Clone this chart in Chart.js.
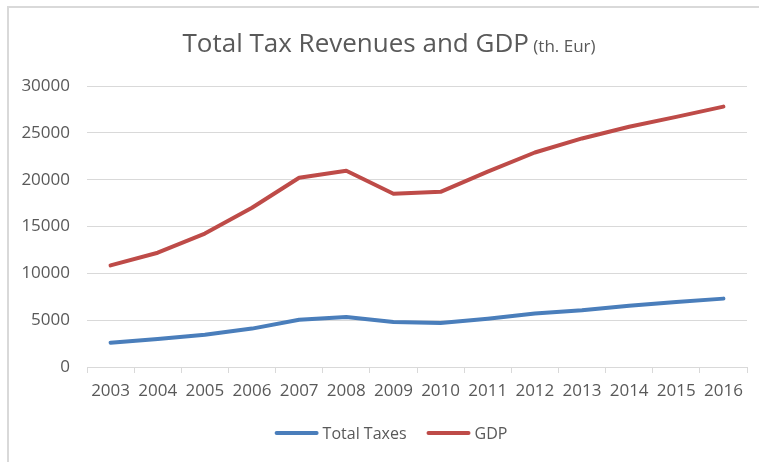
<!DOCTYPE html>
<html>
<head>
<meta charset="utf-8">
<title>Total Tax Revenues and GDP</title>
<script src="https://cdn.jsdelivr.net/npm/chart.js@4.4.1/dist/chart.umd.min.js"></script>
<style>
  html, body { margin: 0; padding: 0; background: #fff; }
  #wrap { position: relative; width: 759px; height: 462px; }
</style>
</head>
<body>
<div id="wrap"><canvas id="taxChart"></canvas></div>
<script>
// years on the x axis
const years = ['2003', '2004', '2005', '2006', '2007', '2008', '2009',
               '2010', '2011', '2012', '2013', '2014', '2015', '2016'];

// thousand euro
const totalTaxes = [2600, 3000, 3450, 4100, 5050, 5350, 4800,
                    4700, 5150, 5700, 6050, 6550, 6950, 7300];
const gdp = [10850, 12200, 14250, 17000, 20200, 20950, 18500,
             18700, 20850, 22900, 24400, 25650, 26700, 27800];

const yTicks = [0, 5000, 10000, 15000, 20000, 25000, 30000];

const FONT = '"Open Sans", sans-serif';
const TEXT = '#595959';
const GRID = '#d9d9d9';

// white background, frame edge, two-size title and the legend row
const chartDecor = {
    id: 'chartDecor',
    beforeDraw(chart) {
        const ctx = chart.ctx;
        ctx.save();
        ctx.fillStyle = '#fff';
        ctx.fillRect(0, 0, chart.width, chart.height);
        ctx.fillStyle = GRID;
        ctx.fillRect(7, 6, chart.width - 7, 2);
        ctx.fillRect(7, 6, 2, chart.height - 6);
        ctx.restore();
    },
    afterDraw(chart) {
        const ctx = chart.ctx;
        ctx.save();
        ctx.fillStyle = TEXT;

        // title
        const main = 'Total Tax Revenues and GDP';
        const unit = ' (th. Eur)';
        ctx.textBaseline = 'alphabetic';
        ctx.font = '26px ' + FONT;
        const w1 = ctx.measureText(main).width;
        ctx.font = '17px ' + FONT;
        const w2 = ctx.measureText(unit).width;
        const tx = 389 - (w1 + w2) / 2;
        ctx.font = '26px ' + FONT;
        ctx.fillText(main, tx, 52);
        ctx.font = '17px ' + FONT;
        ctx.fillText(unit, tx + w1, 52);

        // legend
        const lineLen = 44, gap = 4, itemGap = 20, ly = 433;
        ctx.font = '16px ' + FONT;
        ctx.textBaseline = 'middle';
        const sets = chart.data.datasets;
        const widths = sets.map(ds => lineLen + gap + ctx.measureText(ds.label).width);
        const total = widths.reduce((a, b) => a + b, 0) + itemGap * (sets.length - 1);
        let x = 391 - total / 2;
        sets.forEach((ds, i) => {
            ctx.strokeStyle = ds.borderColor;
            ctx.lineWidth = ds.borderWidth;
            ctx.lineCap = 'round';
            ctx.beginPath();
            ctx.moveTo(x + 2, ly);
            ctx.lineTo(x + lineLen - 2, ly);
            ctx.stroke();
            ctx.fillStyle = TEXT;
            ctx.fillText(ds.label, x + lineLen + gap, ly + 1);
            x += widths[i] + itemGap;
        });
        ctx.restore();
    }
};

const ctx = document.getElementById('taxChart').getContext('2d');

new Chart(ctx, {
    type: 'line',
    data: {
        labels: years,
        datasets: [
            {
                label: 'Total Taxes',
                data: totalTaxes,
                borderColor: '#4a7ebb',
                backgroundColor: '#4a7ebb',
                borderWidth: 4,
                pointRadius: 0,
                tension: 0,
                borderCapStyle: 'round',
                borderJoinStyle: 'round'
            },
            {
                label: 'GDP',
                data: gdp,
                borderColor: '#be4b48',
                backgroundColor: '#be4b48',
                borderWidth: 4,
                pointRadius: 0,
                tension: 0,
                borderCapStyle: 'round',
                borderJoinStyle: 'round'
            }
        ]
    },
    options: {
        responsive: true,
        maintainAspectRatio: false,
        animation: false,
        devicePixelRatio: 1,
        layout: {
            padding: { top: 86, right: 12, bottom: 51, left: 0 }
        },
        plugins: {
            title: { display: false },
            tooltip: { enabled: false },
            legend: { display: false }
        },
        scales: {
            x: {
                offset: true,
                grid: {
                    offset: true,
                    drawOnChartArea: false,
                    drawTicks: true,
                    tickLength: 6,
                    color: GRID
                },
                border: { color: GRID },
                ticks: {
                    color: TEXT,
                    font: { family: FONT, size: 17 },
                    maxRotation: 0,
                    autoSkip: false,
                    padding: 8
                },
                afterFit(axis) { axis.height = 44; }
            },
            y: {
                min: 0,
                max: 30000,
                grid: { color: GRID, drawTicks: false },
                border: { display: false },
                ticks: {
                    color: TEXT,
                    font: { family: FONT, size: 17 },
                    padding: 17,
                    callback: v => String(v)
                },
                afterBuildTicks(axis) {
                    axis.ticks = yTicks.map(v => ({ value: v }));
                },
                afterFit(axis) { axis.width = 87; }
            }
        }
    },
    plugins: [chartDecor]
});
</script>
</body>
</html>
